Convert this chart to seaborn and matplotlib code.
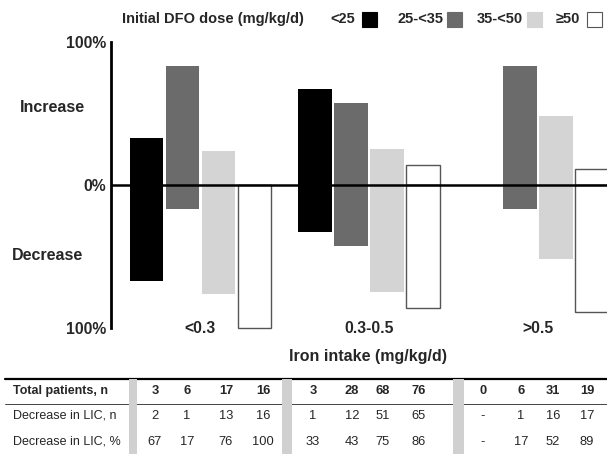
import matplotlib
matplotlib.use("Agg")
import matplotlib.pyplot as plt
from matplotlib.patches import Rectangle
from matplotlib.lines import Line2D
import seaborn as sns
import pandas as pd
import numpy as np

# ---- data ----
iron_levels = ["<0.3", "0.3-0.5", ">0.5"]
dose_levels = ["<25", "25-<35", "35-<50", "≥50"]
total_n = [3, 6, 17, 16, 3, 28, 68, 76, 0, 6, 31, 19]
dec_n = [2, 1, 13, 16, 1, 12, 51, 65, None, 1, 16, 17]
dec_pct = [67, 17, 76, 100, 33, 43, 75, 86, None, 17, 52, 89]
row_labels = ["Total patients, n", "Decrease in LIC, n", "Decrease in LIC, %"]
legend_title = "Initial DFO dose (mg/kg/d)"
xlabel = "Iron intake (mg/kg/d)"
palette = {"<25": "#000000", "25-<35": "#6b6b6b", "35-<50": "#d4d4d4", "≥50": "#ffffff"}

rows = []
for i, iron in enumerate(iron_levels):
    for j, dose in enumerate(dose_levels):
        p = dec_pct[i * 4 + j]
        if p is None:
            continue
        rows.append({"iron": iron, "dose": dose, "dec": -p, "inc": 100 - p})
df = pd.DataFrame(rows)

sns.set_theme(style="white")
plt.rcParams["font.family"] = ["Liberation Sans", "DejaVu Sans"]

W, H = 607, 454
fig = plt.figure(figsize=(W / 100, H / 100), dpi=100)
ax = fig.add_axes([111 / W, (H - 328) / H, 496 / W, 286 / H])

common = dict(x="iron", hue="dose", order=iron_levels, hue_order=dose_levels,
              palette=palette, saturation=1, errorbar=None, width=0.853, gap=0.067,
              legend=False, ax=ax, linewidth=0)
sns.barplot(data=df, y="inc", **common)
sns.barplot(data=df, y="dec", **common)

for p in ax.patches:
    p.set_clip_on(False)
    fc = p.get_facecolor()
    if fc[0] > 0.99 and fc[1] > 0.99 and fc[2] > 0.99:
        p.set_edgecolor("#555555")
        p.set_linewidth(1.0)

ax.axhline(0, color="black", lw=1.8, zorder=10)
ax.set_ylim(-100, 100)
ax.set_xlim(-0.530, 2.409)
for s in ["top", "right", "bottom"]:
    ax.spines[s].set_visible(False)
ax.spines["left"].set_linewidth(2.0)
ax.spines["left"].set_color("black")

ax.set_yticks([-100, 0, 100])
ax.set_yticklabels(["100%", "0%", "100%"], fontsize=11.3, fontweight="bold")
ax.tick_params(axis="y", length=0, pad=3.6)
ax.tick_params(axis="x", length=0, pad=-5)
for t in ax.get_xticklabels():
    t.set_fontsize(11.3)
    t.set_fontweight("bold")
ax.set_ylabel("")
ax.set_xlabel(xlabel, fontsize=11.5, fontweight="bold")
ax.xaxis.set_label_coords((368 - 111) / 496, -(357 - 328) / 286)
ax.xaxis.label.set_va("center")


def fx(x):
    return x / W


def fy(y):
    return 1 - y / H


fig.text(fx(52), fy(107), "Increase", ha="center", va="center", fontsize=11.5, fontweight="bold")
fig.text(fx(48), fy(255), "Decrease", ha="center", va="center", fontsize=11.5, fontweight="bold")

# legend
fig.text(fx(122), fy(19), legend_title, ha="left", va="center", fontsize=10.5, fontweight="bold")
leg_text_x = [330, 397, 477, 556]
leg_box_x = [362, 447, 527, 587]
for lab, tx, bx in zip(dose_levels, leg_text_x, leg_box_x):
    fig.text(fx(tx), fy(19), lab, ha="left", va="center", fontsize=10.5, fontweight="bold")
    ec = "#555555" if lab == "≥50" else palette[lab]
    fig.add_artist(Rectangle((fx(bx), fy(27)), 15 / W, 15 / H, transform=fig.transFigure,
                             facecolor=palette[lab], edgecolor=ec, lw=0.8))

# table
fig.add_artist(Line2D([fx(5), 1], [fy(379), fy(379)], transform=fig.transFigure, color="black", lw=1.6))
fig.add_artist(Line2D([fx(5), 1], [fy(404), fy(404)], transform=fig.transFigure, color="#444444", lw=0.7))
for x0, x1 in [(129, 137), (282, 292), (453, 464)]:
    fig.add_artist(Rectangle((fx(x0), 0), (x1 - x0) / W, fy(379), transform=fig.transFigure,
                             facecolor="#d0d0d0", edgecolor="none", zorder=5))
row_y = [391, 416, 442]
col_x = [155, 187, 226, 263, 313, 352, 383, 419, 483, 521, 553, 587]
for lab, y, wt in zip(row_labels, row_y, ["bold", "normal", "normal"]):
    fig.text(fx(13), fy(y), lab, ha="left", va="center", fontsize=9, fontweight=wt)
for vals, y, wt in zip([total_n, dec_n, dec_pct], row_y, ["bold", "normal", "normal"]):
    for v, x in zip(vals, col_x):
        s = "-" if v is None else str(v)
        fig.text(fx(x), fy(y), s, ha="center", va="center", fontsize=9.3, fontweight=wt)

fig.savefig("out.png", dpi=100)
